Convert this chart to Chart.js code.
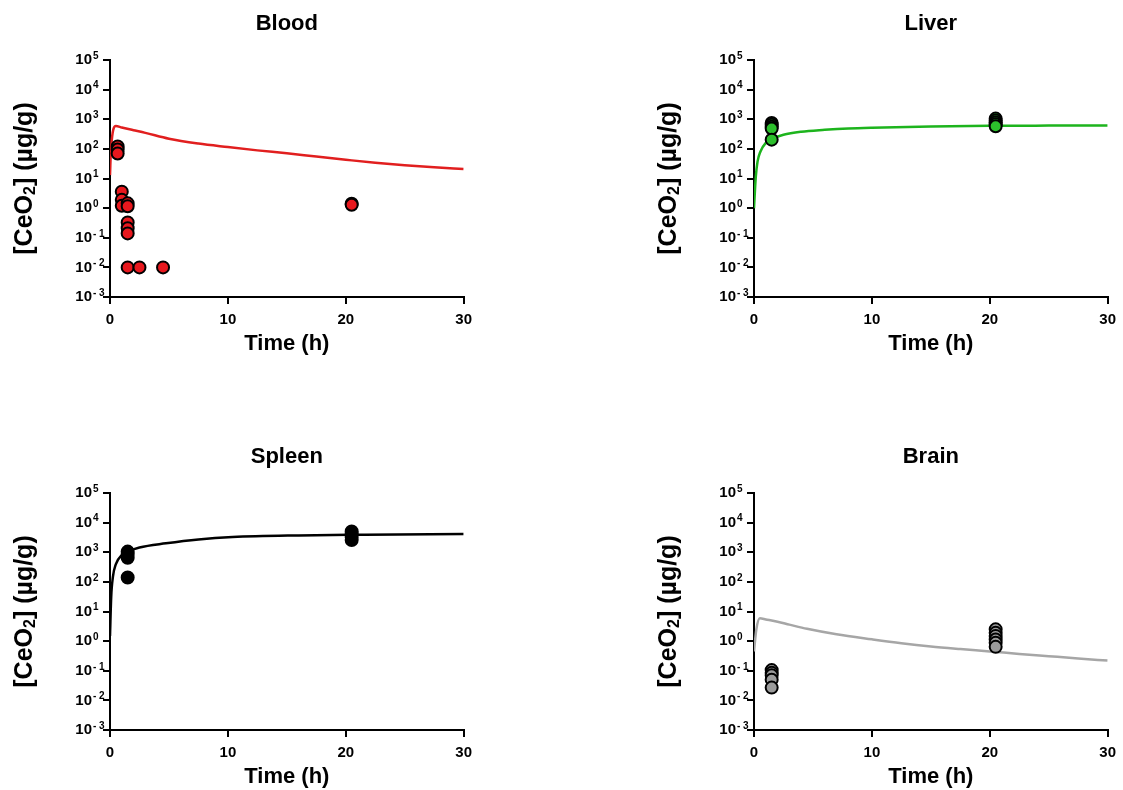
<!DOCTYPE html>
<html>
<head>
<meta charset="utf-8">
<script src="https://cdn.jsdelivr.net/npm/chart.js@4.4.1/dist/chart.umd.min.js"></script>
<style>
  body { margin: 0; background: #fff; }
  .panel { position: absolute; width: 479px; height: 357px; }
</style>
</head>
<body>
<div class="panel" style="left:0;top:0"><canvas id="blood" width="479" height="357"></canvas></div>
<div class="panel" style="left:644px;top:0"><canvas id="liver" width="479" height="357"></canvas></div>
<div class="panel" style="left:0;top:433px"><canvas id="spleen" width="479" height="357"></canvas></div>
<div class="panel" style="left:644px;top:433px"><canvas id="brain" width="479" height="357"></canvas></div>
<script>
// axis ticks
const xTicks = [0, 10, 20, 30];
const yExponents = [-3, -2, -1, 0, 1, 2, 3, 4, 5];

// Blood: model curve + measured points
const bloodFitT = [0, 0.08, 0.5, 1, 2, 3, 5, 7.5, 10, 12.5, 15, 17.5, 20, 22.5, 25, 27.5, 30];
const bloodFitC = [13, 90, 590, 525, 427, 347, 219, 151, 115, 89, 71, 55, 43, 34, 28, 24, 21];
const bloodObsT = [0.65, 0.65, 0.65, 1, 1, 1, 1.5, 1.5, 1.5, 1.5, 1.5, 1.5, 2.5, 4.5, 20.5, 20.5];
const bloodObsC = [120, 95, 70, 3.6, 1.9, 1.2, 1.45, 1.15, 0.33, 0.21, 0.14, 0.01, 0.01, 0.01, 1.4, 1.3];

// Liver
const liverFitT = [0, 0.15, 0.3, 0.55, 1, 1.5, 2.5, 4, 6, 8, 10, 15, 20, 25, 30];
const liverFitC = [1, 11, 37, 82, 160, 215, 300, 380, 440, 490, 520, 570, 600, 610, 615];
const liverObsT = [1.5, 1.5, 1.5, 1.5, 1.5, 20.5, 20.5, 20.5, 20.5, 20.5];
const liverObsC = [750, 650, 560, 490, 205, 1050, 900, 780, 680, 580];

// Spleen
const spleenFitT = [0, 0.1, 0.25, 0.5, 1, 1.5, 2.5, 4.75, 7.5, 10.4, 16, 21.6, 30];
const spleenFitC = [1.5, 30, 150, 400, 800, 1050, 1450, 2000, 2700, 3250, 3700, 3900, 4100];
const spleenObsT = [1.5, 1.5, 1.5, 1.5, 20.5, 20.5, 20.5, 20.5];
const spleenObsC = [1050, 850, 650, 140, 5000, 4200, 3300, 2600];

// Brain
const brainFitT = [0, 0.2, 0.5, 1, 2, 3, 4.5, 7, 10, 12.5, 15, 17.5, 20, 22.5, 25, 27.5, 30];
const brainFitC = [0.45, 2.5, 5.9, 5.4, 4.5, 3.6, 2.6, 1.7, 1.15, 0.85, 0.66, 0.54, 0.45, 0.37, 0.31, 0.26, 0.22];
const brainObsT = [1.5, 1.5, 1.5, 1.5, 1.5, 20.5, 20.5, 20.5, 20.5, 20.5, 20.5];
const brainObsC = [0.105, 0.085, 0.07, 0.05, 0.027, 2.5, 1.9, 1.5, 1.14, 0.88, 0.64];

const FONT = '"Liberation Sans", Arial, sans-serif';

// titles, y tick labels with superscripts and the y title with subscript
const panelText = {
    id: 'panelText',
    afterDraw(chart, args, opts) {
        const ctx = chart.ctx;
        const a = chart.chartArea;
        const y = chart.scales.y;
        ctx.save();
        ctx.fillStyle = '#000';

        ctx.font = 'bold 22px ' + FONT;
        ctx.textAlign = 'center';
        ctx.textBaseline = 'middle';
        ctx.fillText(opts.title, (a.left + a.right) / 2, a.top - 36);

        yExponents.forEach(e => {
            const py = y.getPixelForValue(Math.pow(10, e));
            ctx.font = 'bold 15px ' + FONT;
            ctx.textAlign = 'right';
            ctx.fillText('10', a.left - 18, py);
            ctx.font = 'bold 10px ' + FONT;
            ctx.textAlign = 'left';
            ctx.fillText(e < 0 ? '- ' + (-e) : String(e), a.left - 17, py - 4);
        });

        ctx.translate(25, (a.top + a.bottom) / 2);
        ctx.rotate(-Math.PI / 2);
        const parts = [['[CeO', 'bold 25px ' + FONT, 0], ['2', 'bold 16px ' + FONT, 6], ['] (µg/g)', 'bold 25px ' + FONT, 0]];
        let w = 0;
        parts.forEach(p => { ctx.font = p[1]; w += ctx.measureText(p[0]).width; });
        let x = -w / 2;
        ctx.textAlign = 'left';
        parts.forEach(p => {
            ctx.font = p[1];
            ctx.fillText(p[0], x, p[2]);
            x += ctx.measureText(p[0]).width;
        });
        ctx.restore();
    }
};

function makePanel(id, title, fitT, fitC, obsT, obsC, lineColor, fillColor) {
    const axisLine = { drawOnChartArea: false, drawTicks: true, tickLength: 7, color: '#000', lineWidth: 2 };
    new Chart(document.getElementById(id), {
        type: 'scatter',
        data: {
            datasets: [{
                data: obsT.map((t, i) => ({ x: t, y: obsC[i] })),
                pointRadius: 6,
                pointBorderWidth: 2,
                pointBorderColor: '#000',
                pointBackgroundColor: fillColor,
                showLine: false,
                order: 0
            }, {
                data: fitT.map((t, i) => ({ x: t, y: fitC[i] })),
                showLine: true,
                borderColor: lineColor,
                borderWidth: 2.5,
                pointRadius: 0,
                cubicInterpolationMode: 'monotone',
                order: 1
            }]
        },
        plugins: [panelText],
        options: {
            responsive: false,
            animation: false,
            layout: { padding: { top: 60, right: 13, left: 0, bottom: 0 } },
            plugins: {
                legend: { display: false },
                tooltip: { enabled: false },
                panelText: { title: title }
            },
            scales: {
                x: {
                    type: 'linear', min: 0, max: 30,
                    afterBuildTicks: s => { s.ticks = xTicks.map(v => ({ value: v })); },
                    ticks: { color: '#000', padding: 7, maxRotation: 0, font: { family: FONT, size: 15, weight: 'bold' } },
                    grid: axisLine,
                    border: { color: '#000', width: 2 },
                    title: { display: true, text: 'Time (h)', color: '#000', padding: 0, font: { family: FONT, size: 22, weight: 'bold' } },
                    afterFit: s => { s.height = 60; }
                },
                y: {
                    type: 'logarithmic', min: 1e-3, max: 1e5,
                    afterBuildTicks: s => { s.ticks = yExponents.map(e => ({ value: Math.pow(10, e) })); },
                    ticks: { callback: () => '', autoSkip: false },
                    grid: axisLine,
                    border: { color: '#000', width: 2 },
                    afterFit: s => { s.width = 110; }
                }
            }
        }
    });
}

makePanel('blood', 'Blood', bloodFitT, bloodFitC, bloodObsT, bloodObsC, '#e11f1f', '#e8181e');
makePanel('liver', 'Liver', liverFitT, liverFitC, liverObsT, liverObsC, '#1db41d', '#2cbf2c');
makePanel('spleen', 'Spleen', spleenFitT, spleenFitC, spleenObsT, spleenObsC, '#000', '#000');
makePanel('brain', 'Brain', brainFitT, brainFitC, brainObsT, brainObsC, '#a6a6a6', '#9b9b9b');
</script>
</body>
</html>
